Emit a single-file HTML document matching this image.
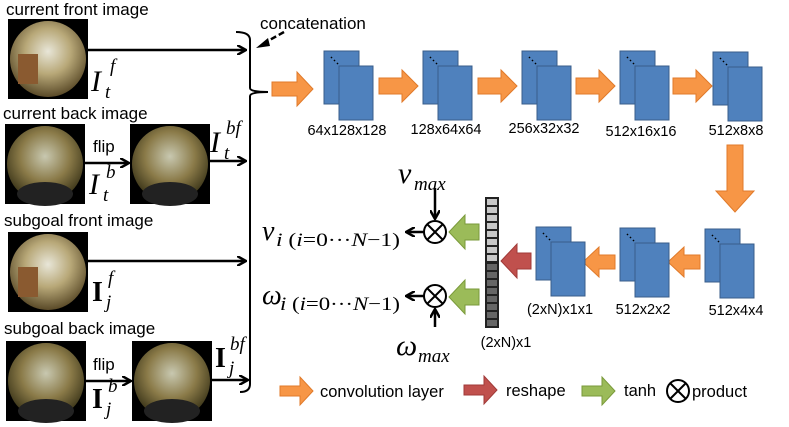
<!DOCTYPE html>
<html><head><meta charset="utf-8"><style>
body{margin:0;background:#fff}
svg{display:block}
text{font-family:"Liberation Sans",sans-serif}
.m{font-family:"Liberation Serif",serif;font-style:italic}
.r{font-family:"Liberation Serif",serif}
</style></head><body>
<svg width="789" height="427" viewBox="0 0 789 427" xmlns="http://www.w3.org/2000/svg">
<defs>
<radialGradient id="g1" cx="0.5" cy="0.4" r="0.6">
<stop offset="0" stop-color="#e8e6d8"/><stop offset="0.5" stop-color="#b8a878"/><stop offset="1" stop-color="#5a4a28"/>
</radialGradient>
<radialGradient id="g2" cx="0.5" cy="0.4" r="0.6">
<stop offset="0" stop-color="#c8c8b0"/><stop offset="0.55" stop-color="#8a7a48"/><stop offset="1" stop-color="#3a3418"/>
</radialGradient>
<marker id="ah" markerWidth="10" markerHeight="10" refX="8" refY="5" orient="auto" markerUnits="userSpaceOnUse">
<path d="M0,0 L9,5 L0,10" fill="none" stroke="#000" stroke-width="2.5"/>
</marker>
<g id="front"><rect width="80" height="80" fill="#000"/><circle cx="40" cy="40" r="38" fill="url(#g1)"/><rect x="10" y="35" width="20" height="30" fill="#8a5a30"/></g>
<g id="back"><rect width="80" height="80" fill="#000"/><circle cx="40" cy="40" r="38" fill="url(#g2)"/><ellipse cx="40" cy="70" rx="28" ry="12" fill="#222"/></g>
<g id="blk"><rect x="0" y="0" width="35" height="53" fill="#4f81bd" stroke="#385d8a"/><rect x="15" y="15" width="34" height="54" fill="#4f81bd" stroke="#385d8a"/><path d="M7,6 l1,1 M10,9 l1,1 M13,12 l1,1" stroke="#000" stroke-width="1.5"/></g>
</defs>

<text x="6" y="15" font-size="17">current front image</text>
<use href="#front" x="8" y="19"/>
<text x="3" y="119" font-size="17">current back image</text>
<use href="#back" x="5" y="124"/>
<use href="#back" x="130" y="124"/>
<text x="4" y="226" font-size="17">subgoal front image</text>
<use href="#front" x="8" y="232"/>
<text x="4" y="334" font-size="17">subgoal back image</text>
<use href="#back" x="6" y="341"/>
<use href="#back" x="132" y="341"/>

<g stroke="#000" stroke-width="2.5" fill="none" marker-end="url(#ah)">
<path d="M88,50 L245,50"/>
<path d="M85,163 L128,163"/>
<path d="M208,161 L245,161"/>
<path d="M88,261 L245,261"/>
<path d="M86,381 L130,381"/>
<path d="M210,380 L247,380"/>
</g>
<text x="93" y="152" font-size="17">flip</text>
<text x="93" y="370" font-size="17">flip</text>
<text class="m" x="91" y="91" font-size="30">I</text><text class="m" x="105" y="98" font-size="19">t</text><text class="m" x="110" y="72" font-size="19">f</text>
<text class="m" x="89" y="194" font-size="30">I</text><text class="m" x="103" y="201" font-size="19">t</text><text class="m" x="106" y="178" font-size="19">b</text>
<text class="m" x="210" y="152" font-size="30">I</text><text class="m" x="224" y="159" font-size="19">t</text><text class="m" x="226" y="134" font-size="19">bf</text>
<text x="92" y="301" font-size="28" class="r" font-weight="bold">I</text><text class="m" x="106" y="308" font-size="19">j</text><text class="m" x="108" y="284" font-size="19">f</text>
<text x="92" y="408" font-size="28" class="r" font-weight="bold">I</text><text class="m" x="106" y="415" font-size="19">j</text><text class="m" x="108" y="392" font-size="19">b</text>
<text x="215" y="367" font-size="28" class="r" font-weight="bold">I</text><text class="m" x="229" y="374" font-size="19">j</text><text class="m" x="230" y="350" font-size="19">bf</text>

<path d="M236,32 Q250,32 250,40 L250,88 Q250,92 268,92 Q250,92 250,96 L250,384 Q250,392 240,392" fill="none" stroke="#000" stroke-width="2"/>
<text x="260" y="29" font-size="17">concatenation</text>
<path d="M284,32 L266,42" stroke="#000" stroke-width="2.5" stroke-dasharray="6,3"/>
<path d="M256,48 L268,38 L270,46 Z" fill="#000"/>

<g fill="#f79646" stroke="#e07a2a" stroke-width="1">
<path d="M272,82 h25 v-10 l16,17 l-16,17 v-10 h-25 z"/>
<path d="M379,78 h23 v-8 l16,16 l-16,16 v-8 h-23 z"/>
<path d="M478,78 h23 v-8 l16,16 l-16,16 v-8 h-23 z"/>
<path d="M576,78 h23 v-8 l16,16 l-16,16 v-8 h-23 z"/>
<path d="M673,78 h23 v-8 l16,16 l-16,16 v-8 h-23 z"/>
<path d="M727,145 h16 v46 h11 l-19,21 l-19,-21 h11 z"/>
<path d="M700,255 h-16 v-8 l-16,15 l16,15 v-8 h16 z"/>
<path d="M615,255 h-16 v-8 l-16,15 l16,15 v-8 h16 z"/>
<path d="M280,386 h20 v-9 l13,14 l-13,14 v-9 h-20 z"/>
</g>
<use href="#blk" x="324" y="51"/>
<use href="#blk" x="423" y="51"/>
<use href="#blk" x="522" y="51"/>
<use href="#blk" x="620" y="51"/>
<use href="#blk" x="713" y="52"/>
<use href="#blk" x="705" y="229"/>
<use href="#blk" x="620" y="228"/>
<use href="#blk" x="536" y="227"/>
<g font-size="14.5" text-anchor="middle">
<text x="347" y="135">64x128x128</text>
<text x="446" y="134">128x64x64</text>
<text x="544" y="133">256x32x32</text>
<text x="641" y="136">512x16x16</text>
<text x="736" y="135">512x8x8</text>
<text x="736" y="315">512x4x4</text>
<text x="643" y="314">512x2x2</text>
<text x="560" y="314">(2xN)x1x1</text>
<text x="506" y="347">(2xN)x1</text>
</g>
<path d="M531,253 h-14 v-9 l-16,17 l16,17 v-9 h14 z" fill="#c0504d" stroke="#a03a38"/>
<path d="M479,224 h-14 v-9 l-16,17 l16,17 v-9 h14 z" fill="#9bbb59" stroke="#7a9a3a"/>
<path d="M479,289 h-14 v-9 l-16,17 l16,17 v-9 h14 z" fill="#9bbb59" stroke="#7a9a3a"/>
<path d="M464,385 h20 v-9 l13,14 l-13,14 v-9 h-20 z" fill="#c0504d" stroke="#a03a38"/>
<path d="M582,386 h20 v-9 l13,14 l-13,14 v-9 h-20 z" fill="#9bbb59" stroke="#7a9a3a"/>
<rect x="485" y="197" width="14" height="131" fill="#222"/>
<g fill="#c8c8c8"><rect x="487" y="199" width="10" height="6"/><rect x="487" y="207" width="10" height="6"/><rect x="487" y="215" width="10" height="6"/><rect x="487" y="223" width="10" height="6"/><rect x="487" y="231" width="10" height="6"/><rect x="487" y="239" width="10" height="6"/><rect x="487" y="247" width="10" height="6"/><rect x="487" y="255" width="10" height="6"/></g>
<g fill="#666"><rect x="487" y="264" width="10" height="6"/><rect x="487" y="272" width="10" height="6"/><rect x="487" y="280" width="10" height="6"/><rect x="487" y="288" width="10" height="6"/><rect x="487" y="296" width="10" height="6"/><rect x="487" y="304" width="10" height="6"/><rect x="487" y="312" width="10" height="6"/><rect x="487" y="320" width="10" height="6"/></g>

<g stroke="#000" stroke-width="2" fill="#fff">
<circle cx="435" cy="232" r="11"/><path d="M427,224 L443,240 M443,224 L427,240"/>
<circle cx="435" cy="296" r="11"/><path d="M427,288 L443,304 M443,288 L427,304"/>
<circle cx="678" cy="391" r="11"/><path d="M670,383 L686,399 M686,383 L670,399"/>
</g>
<g stroke="#000" stroke-width="2.5" fill="none" marker-end="url(#ah)">
<path d="M435,188 L435,218"/>
<path d="M424,232 L407,232"/>
<path d="M424,296 L407,296"/>
<path d="M435,327 L435,310"/>
</g>
<text class="m" x="398" y="183" font-size="30">v</text><text class="m" x="414" y="190" font-size="19">max</text>
<text class="m" x="396" y="355" font-size="30">ω</text><text class="m" x="418" y="362" font-size="19">max</text>
<text class="m" x="262" y="240" font-size="28">v</text><text class="r" x="276" y="246" font-size="19" textLength="124" lengthAdjust="spacingAndGlyphs"><tspan font-style="italic">i</tspan> (<tspan font-style="italic">i</tspan>=0···<tspan font-style="italic">N</tspan>−1)</text>
<text class="m" x="262" y="304" font-size="28">ω</text><text class="r" x="280" y="310" font-size="19" textLength="120" lengthAdjust="spacingAndGlyphs"><tspan font-style="italic">i</tspan> (<tspan font-style="italic">i</tspan>=0···<tspan font-style="italic">N</tspan>−1)</text>

<g font-size="16.5">
<text x="320" y="397">convolution layer</text>
<text x="506" y="396">reshape</text>
<text x="624" y="396">tanh</text>
<text x="692" y="397">product</text>
</g>
</svg>
</body></html>
